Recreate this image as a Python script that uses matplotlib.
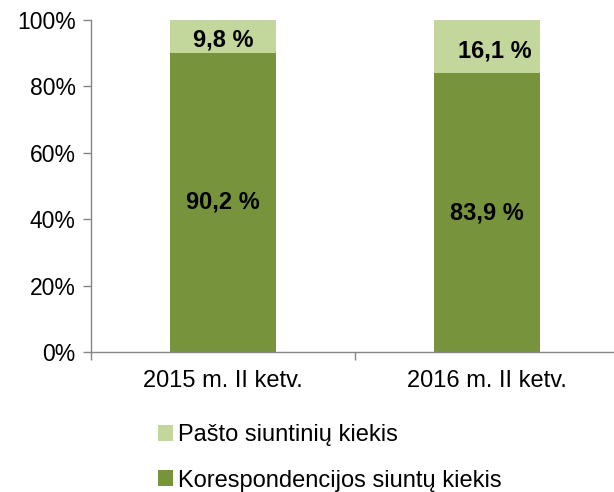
import matplotlib
matplotlib.use("Agg")
import matplotlib.pyplot as plt
from matplotlib.patches import Patch

categories = ["2015 m. II ketv.", "2016 m. II ketv."]
korespondencija = [90.2, 83.9]
pastas = [9.8, 16.1]
kores_labels = ["90,2 %", "83,9 %"]
pastas_labels = ["9,8 %", "16,1 %"]
yticks = [0, 20, 40, 60, 80, 100]

plt.rcParams['font.family'] = ['Liberation Sans', 'DejaVu Sans']

dark = "#77933C"
light = "#C3D69B"
grey = "#868686"

fig = plt.figure(figsize=(6.14, 4.92), dpi=100)
W, H = 614, 492
ax = fig.add_axes([91 / W, 1 - 352 / H, 528 / W, 332 / H])

x = list(range(len(categories)))
ax.bar(x, korespondencija, width=0.4, color=dark, zorder=2)
ax.bar(x, pastas, width=0.4, bottom=korespondencija, color=light, zorder=2)

for i in x:
    ax.text(i, korespondencija[i] / 2, kores_labels[i], ha="center", va="center",
            fontsize=17, fontweight="bold", color="black")
    ax.text(i + (0.03 if i == 1 else 0), korespondencija[i] + pastas[i] / 2 - 1.2, pastas_labels[i],
            ha="center", va="center", fontsize=17, fontweight="bold", color="black")

ax.set_xlim(-0.5, 1.5)
ax.set_ylim(0, 100)
ax.set_yticks(yticks)
ax.set_yticklabels([f"{v}%" for v in yticks], fontsize=16.5)
ax.set_xticks([-0.5, 0.5, 1.5])
ax.set_xticklabels([])
ax.set_xticks(x, minor=True)
ax.set_xticklabels(categories, minor=True, fontsize=17)
ax.tick_params(axis="x", which="minor", length=0, pad=13)
ax.tick_params(axis="x", which="major", length=6, color=grey, width=1)
ax.tick_params(axis="y", length=6, color=grey, width=1, pad=5)

for s in ["top", "right"]:
    ax.spines[s].set_visible(False)
for s in ["left", "bottom"]:
    ax.spines[s].set_color(grey)
    ax.spines[s].set_linewidth(1)

handles = [Patch(facecolor=light, edgecolor="none", label="Pašto siuntinių kiekis"),
           Patch(facecolor=dark, edgecolor="none", label="Korespondencijos siuntų kiekis")]
fig.legend(handles=handles, loc="upper left", bbox_to_anchor=(158 / W, 1 - 424 / H),
           frameon=False, fontsize=17, handlelength=0.65, handleheight=0.65,
           handletextpad=0.2, labelspacing=1.0, borderaxespad=0, borderpad=0)

fig.savefig("out.png", dpi=100)
